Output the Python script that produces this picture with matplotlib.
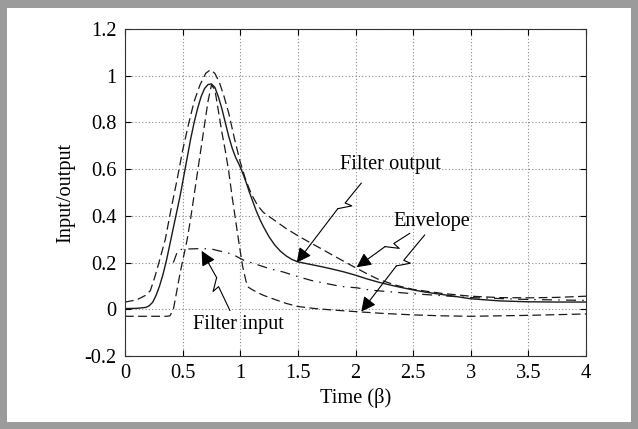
import numpy as np
import matplotlib
matplotlib.use("Agg")
import matplotlib.pyplot as plt
from matplotlib.patches import Rectangle

# values
t_output = [0.0, 0.1, 0.18, 0.21, 0.24, 0.27, 0.3, 0.33, 0.36, 0.39, 0.42, 0.45, 0.48, 0.51,
            0.54, 0.57, 0.6, 0.63, 0.66, 0.69, 0.72, 0.75, 0.78, 0.81, 0.84, 0.87, 0.9, 0.93,
            0.96, 0.99, 1.02, 1.05, 1.08, 1.11, 1.14, 1.17, 1.2, 1.25, 1.3, 1.35, 1.4, 1.45,
            1.5, 1.6, 1.7, 1.8, 1.9, 2.0, 2.1, 2.2, 2.3, 2.4, 2.5, 2.6, 2.8, 3.0, 3.25, 3.5,
            3.75, 4.0]
filter_output = [0.003, 0.004, 0.008, 0.015, 0.03, 0.06, 0.1, 0.15, 0.21, 0.28, 0.35, 0.42, 0.49, 0.57,
                 0.65, 0.73, 0.8, 0.86, 0.91, 0.945, 0.962, 0.965, 0.95, 0.91, 0.86, 0.8, 0.74, 0.69,
                 0.65, 0.62, 0.585, 0.545, 0.5, 0.46, 0.42, 0.385, 0.355, 0.31, 0.275, 0.248, 0.228, 0.213,
                 0.203, 0.193, 0.183, 0.172, 0.16, 0.146, 0.13, 0.116, 0.104, 0.093, 0.083, 0.074, 0.06, 0.045,
                 0.036, 0.032, 0.031, 0.031]

t_upper = [0.0, 0.1, 0.18, 0.22, 0.26, 0.3, 0.35, 0.4, 0.45, 0.5, 0.55, 0.6, 0.65, 0.7,
           0.74, 0.78, 0.82, 0.86, 0.9, 0.95, 1.0, 1.05, 1.1, 1.15, 1.2, 1.3, 1.4, 1.5,
           1.6, 1.7, 1.8, 1.9, 2.0, 2.1, 2.2, 2.35, 2.5, 2.75, 3.0, 3.25, 3.5, 3.75, 4.0]
upper_envelope = [0.031, 0.04, 0.06, 0.08, 0.14, 0.21, 0.3, 0.43, 0.55, 0.68, 0.79, 0.89, 0.96, 1.01,
                  1.025, 1.01, 0.97, 0.91, 0.84, 0.73, 0.63, 0.55, 0.49, 0.445, 0.415, 0.38, 0.345, 0.315,
                  0.287, 0.26, 0.232, 0.205, 0.178, 0.152, 0.128, 0.103, 0.085, 0.068, 0.056, 0.05, 0.049,
                  0.051, 0.056]

t_lower = [0.0, 0.2, 0.36, 0.39, 0.42, 0.45, 0.48, 0.51, 0.54, 0.57, 0.6, 0.63, 0.66, 0.69,
           0.72, 0.75, 0.78, 0.81, 0.84, 0.87, 0.9, 0.93, 0.96, 0.99, 1.02, 1.05, 1.07, 1.1,
           1.15, 1.2, 1.3, 1.4, 1.5, 1.65, 1.8, 2.0, 2.25, 2.5, 2.75, 3.0, 3.5, 4.0]
lower_envelope = [-0.03, -0.03, -0.03, -0.028, 0.0, 0.08, 0.16, 0.23, 0.3, 0.39, 0.49, 0.59, 0.69, 0.79,
                  0.89, 0.96, 0.94, 0.85, 0.76, 0.68, 0.59, 0.48, 0.38, 0.28, 0.185, 0.12, 0.095, 0.085,
                  0.072, 0.06, 0.042, 0.025, 0.012, 0.003, -0.003, -0.01, -0.018, -0.024, -0.028, -0.03,
                  -0.026, -0.02]

t_input = [0.42, 0.46, 0.535, 0.665, 0.75, 0.926, 1.03, 1.26, 1.37, 1.5, 1.62, 1.87, 2.01,
           2.13, 2.49, 3.0, 3.5, 4.0]
filter_input = [0.2, 0.255, 0.258, 0.26, 0.258, 0.237, 0.21, 0.173, 0.16, 0.14, 0.123, 0.098, 0.092,
                0.082, 0.067, 0.05, 0.042, 0.038]

xticks = [0, 0.5, 1, 1.5, 2, 2.5, 3, 3.5, 4]
xticklabels = ['0', '0.5', '1', '1.5', '2', '2.5', '3', '3.5', '4']
yticks = [-0.2, 0, 0.2, 0.4, 0.6, 0.8, 1.0, 1.2]
yticklabels = ['-0.2', '0', '0.2', '0.4', '0.6', '0.8', '1', '1.2']

plt.rcParams['font.family'] = ['Liberation Serif', 'DejaVu Serif']
plt.rcParams['font.size'] = 14.7

W, H = 638, 429
fig = plt.figure(figsize=(W / 100, H / 100), dpi=100, facecolor='#9b9b9b')
fig.patches.append(Rectangle((7 / W, 7 / H), 1 - 14 / W, 1 - 15 / H, transform=fig.transFigure,
                             facecolor='white', edgecolor='none', zorder=-10))
ax = fig.add_axes([125 / W, 1 - 356 / H, 461 / W, 327 / H])

line_col = '#1a1a1a'
ax.plot(t_upper, upper_envelope, color=line_col, lw=0.9, dashes=(7, 3.5))
ax.plot(t_lower, lower_envelope, color=line_col, lw=0.9, dashes=(7, 3.5))
ax.plot(t_output, filter_output, color=line_col, lw=1.0)
ax.plot(t_input, filter_input, color=line_col, lw=0.9, dashes=(8, 5, 1.2, 5))

ax.set_xlim(0, 4)
ax.set_ylim(-0.2, 1.2)
ax.set_xticks(xticks)
ax.set_xticklabels(xticklabels)
ax.set_yticks(yticks)
ax.set_yticklabels(yticklabels)
ax.grid(True, linestyle=(0, (1, 2)), color='#8a8a8a', lw=0.8)
ax.tick_params(direction='in', length=4, width=0.8, top=True, right=True, pad=6)
for s in ax.spines.values():
    s.set_linewidth(0.8)
    s.set_color('#333333')
ax.set_xlabel('Time (β)', labelpad=3)
ax.set_ylabel('Input/output', labelpad=7)


def zigzag_arrow(start, tip, t=0.35, jog=7):
    # lightning-style leader line drawn in pixel space
    tr = ax.transData
    p0 = np.array(tr.transform(start))
    p3 = np.array(tr.transform(tip))
    d = p3 - p0
    L = np.hypot(*d)
    u = d / L
    n = np.array([-u[1], u[0]])
    a = p0 + u * L * t
    b = a + n * jog - u * 2
    c = a + u * 9 + n * (-jog * 0.3)
    pts = tr.inverted().transform(np.vstack([p0, a, b, c]))
    ax.plot(pts[:, 0], pts[:, 1], color='k', lw=0.8, solid_joinstyle='round')
    ax.annotate('', xy=tip, xytext=tuple(pts[-1]),
                arrowprops=dict(arrowstyle='-|>', color='k', lw=0.8,
                                mutation_scale=22, shrinkA=0, shrinkB=0))


ax.text(2.3, 0.62, 'Filter output', ha='center', va='center')
zigzag_arrow((2.05, 0.54), (1.49, 0.20), t=0.25)

ax.text(2.66, 0.375, 'Envelope', ha='center', va='center')
zigzag_arrow((2.47, 0.325), (2.01, 0.18), t=0.3)
zigzag_arrow((2.6, 0.318), (2.05, -0.01), t=0.33)

ax.text(0.98, -0.065, 'Filter input', ha='center', va='center')
zigzag_arrow((0.91, -0.005), (0.665, 0.25), t=0.4)

fig.savefig('out.png', dpi=100, facecolor=fig.get_facecolor())
